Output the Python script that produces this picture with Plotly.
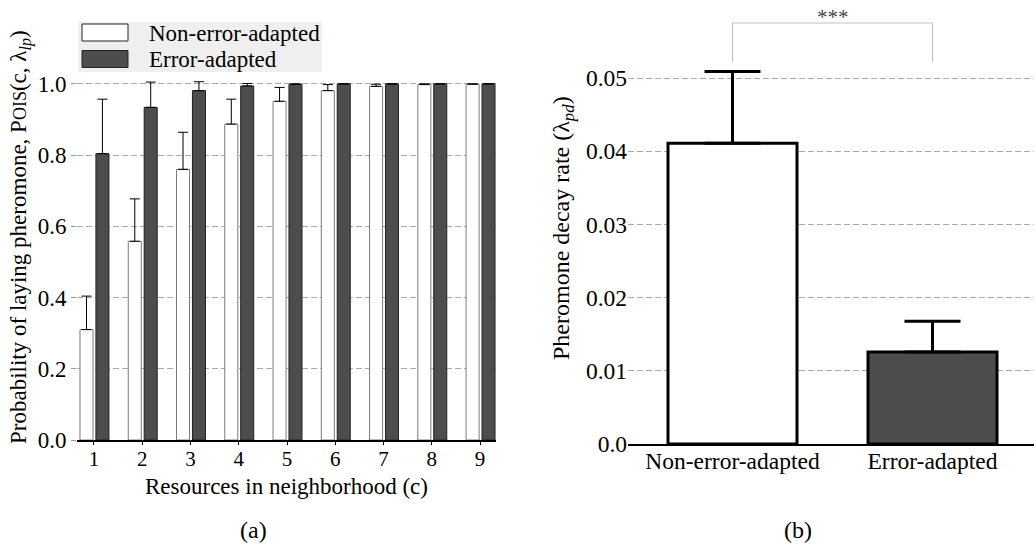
import plotly.graph_objects as go

# ---- panel (a): probability of laying pheromone vs. neighborhood resources
resources = [1, 2, 3, 4, 5, 6, 7, 8, 9]
non_adapted_prob = [0.31, 0.558, 0.76, 0.887, 0.951, 0.981, 0.993, 0.998, 0.999]
non_adapted_err = [0.094, 0.119, 0.104, 0.070, 0.039, 0.017, 0.006, 0.002, 0.001]
adapted_prob = [0.804, 0.934, 0.981, 0.994, 0.999, 1.0, 1.0, 1.0, 1.0]
adapted_err = [0.153, 0.071, 0.025, 0.007, 0.001, 0.0, 0.0, 0.0, 0.0]

# ---- panel (b): pheromone decay rate
groups = ["Non-error-adapted", "Error-adapted"]
decay_rate = [0.0411, 0.01256]
decay_err = [0.0098, 0.0042]

y_ticks_a = [0.0, 0.2, 0.4, 0.6, 0.8, 1.0]
y_ticks_b = [0.0, 0.01, 0.02, 0.03, 0.04, 0.05]
y_ticktext_b = ["0.0", "0.01", "0.02", "0.03", "0.04", "0.05"]

SERIF = "Liberation Serif"
DARK = "#4d4d4d"
W, H = 1034, 548


def px(x):
    return x / W


def py(y):
    return 1 - y / H


fig = go.Figure()

fig.add_trace(go.Bar(
    x=resources, y=non_adapted_prob, width=0.27, offset=-0.29,
    marker=dict(color="white", line=dict(color="#7a7a7a", width=1)),
    error_y=dict(type="data", symmetric=False, array=non_adapted_err,
                 arrayminus=[0] * len(resources), color="black",
                 thickness=1, width=5),
    xaxis="x", yaxis="y", showlegend=False,
))
fig.add_trace(go.Bar(
    x=resources, y=adapted_prob, width=0.27, offset=0.04,
    marker=dict(color=DARK, line=dict(color="#222222", width=1)),
    error_y=dict(type="data", symmetric=False, array=adapted_err,
                 arrayminus=[0] * len(resources), color="black",
                 thickness=1, width=5),
    xaxis="x", yaxis="y", showlegend=False,
))

fig.add_trace(go.Bar(
    x=groups, y=decay_rate, width=0.645,
    marker=dict(color=["white", DARK], line=dict(color="black", width=3)),
    error_y=dict(type="data", symmetric=False, array=decay_err,
                 arrayminus=[0, 0], color="black", thickness=3, width=28),
    xaxis="x2", yaxis="y2", showlegend=False,
))

grid = dict(showgrid=True, gridcolor="#aaaaaa", griddash="6px,3px", gridwidth=1)
tick_ax = dict(family=SERIF, size=21, color="black")
tick_ay = dict(family=SERIF, size=23, color="black")
tick_b = dict(family=SERIF, size=23.5, color="black")

fig.update_layout(
    width=W, height=H,
    margin=dict(l=0, r=0, t=0, b=0),
    paper_bgcolor="white", plot_bgcolor="white",
    barmode="overlay",
    font=dict(family=SERIF, color="black"),
    xaxis=dict(domain=[px(77), px(496)], range=[0.648, 9.33],
               tickvals=resources, tickfont=tick_ax, showgrid=False,
               showline=True, linecolor="black", linewidth=1.5,
               zeroline=False, ticks="outside", ticklen=3, tickcolor="black",
               ticklabelstandoff=-4, automargin=False, anchor="y"),
    yaxis=dict(domain=[py(440), py(34)], range=[0, 1.14],
               tickvals=y_ticks_a, tickformat=".1f", tickfont=tick_ay,
               showline=False, zeroline=False, ticks="outside", ticklen=5,
               tickcolor="#999999", automargin=False, anchor="x", **grid),
    xaxis2=dict(domain=[px(628), 1.0], range=[-0.5225, 1.5075],
                tickfont=tick_b, showgrid=False, showline=True,
                linecolor="black", linewidth=1.5, zeroline=False, ticks="",
                ticklabelstandoff=-5, automargin=False, anchor="y2"),
    yaxis2=dict(domain=[py(444), py(70)], range=[0, 0.0511],
                tickvals=y_ticks_b, ticktext=y_ticktext_b, tickfont=tick_b,
                showline=False, zeroline=False, ticks="", automargin=False,
                anchor="x2", **grid),
)

# legend for panel (a)
shapes = [
    dict(type="rect", xref="paper", yref="paper", x0=px(78), x1=px(322),
         y0=py(72), y1=py(22), fillcolor="#efefef", line=dict(width=0),
         layer="above"),
    dict(type="rect", xref="paper", yref="paper", x0=px(82), x1=px(128),
         y0=py(41), y1=py(24), fillcolor="white",
         line=dict(color="#222222", width=1), layer="above"),
    dict(type="rect", xref="paper", yref="paper", x0=px(82), x1=px(128),
         y0=py(67.5), y1=py(50.5), fillcolor=DARK,
         line=dict(color="#222222", width=1), layer="above"),
    # significance bracket for panel (b)
    dict(type="path", xref="x2", yref="paper",
         path=f"M 0,{py(62)} L 0,{py(23)} L 1,{py(23)} L 1,{py(62)}",
         line=dict(color="#c4c4c4", width=1.2)),
]

annotations = [
    dict(text="Non-error-adapted", x=px(147), y=py(33), xref="paper",
         yref="paper", xanchor="left", yanchor="middle", showarrow=False,
         font=dict(family=SERIF, size=23)),
    dict(text="Error-adapted", x=px(147), y=py(59), xref="paper",
         yref="paper", xanchor="left", yanchor="middle", showarrow=False,
         font=dict(family=SERIF, size=23)),
    dict(text="Probability of laying pheromone, P<span style='font-size:18px'>OIS</span>(c, λ<sub><i>lp</i></sub>)",
         x=px(20), y=py(237), xref="paper", yref="paper", textangle=-90,
         xanchor="center", yanchor="middle", showarrow=False,
         font=dict(family=SERIF, size=23)),
    dict(text="Resources in neighborhood (c)", x=px(286), y=py(486),
         xref="paper", yref="paper", xanchor="center", yanchor="middle",
         showarrow=False, font=dict(family=SERIF, size=23)),
    dict(text="Pheromone decay rate (λ<sub><i>pd</i></sub>)", x=px(563),
         y=py(228), xref="paper", yref="paper", textangle=-90,
         xanchor="center", yanchor="middle", showarrow=False,
         font=dict(family=SERIF, size=24)),
    dict(text="***", x=0.5, xref="x2", y=py(17), yref="paper",
         xanchor="center", yanchor="middle", showarrow=False,
         font=dict(family=SERIF, size=21, color="#444444")),
    dict(text="(a)", x=px(254), y=py(530), xref="paper", yref="paper",
         xanchor="center", yanchor="middle", showarrow=False,
         font=dict(family=SERIF, size=24)),
    dict(text="(b)", x=px(798), y=py(530), xref="paper", yref="paper",
         xanchor="center", yanchor="middle", showarrow=False,
         font=dict(family=SERIF, size=24)),
]

fig.update_layout(shapes=shapes, annotations=annotations)
fig.write_html("out.html")
